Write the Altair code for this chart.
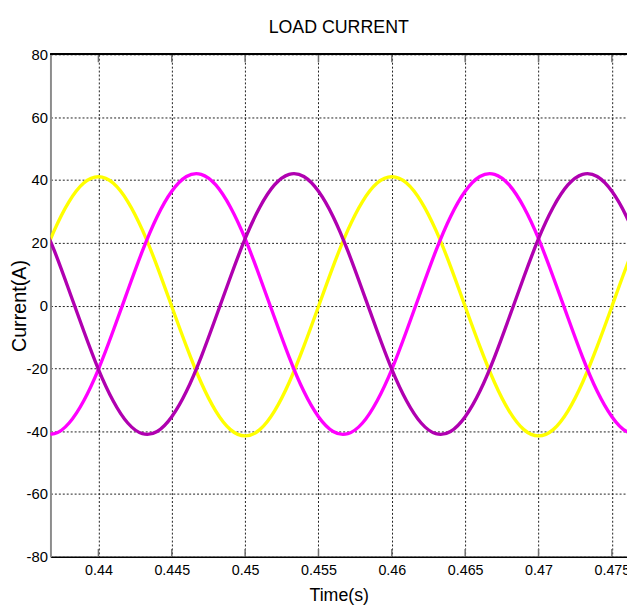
import altair as alt
import pandas as pd

# Sample times (s)
time_s = [0.436, 0.437, 0.438, 0.439, 0.440, 0.441, 0.442, 0.443, 0.444, 0.445,
          0.446, 0.447, 0.448, 0.449, 0.450, 0.451, 0.452, 0.453, 0.454, 0.455,
          0.456, 0.457, 0.458, 0.459, 0.460, 0.461, 0.462, 0.463, 0.464, 0.465,
          0.466, 0.467, 0.468, 0.469, 0.470, 0.471, 0.472, 0.473, 0.474, 0.475,
          0.476, 0.477]

# Phase currents (A)
yellow_a = [12.5, 24.0, 33.1, 39.0, 41.0, 39.0, 33.1, 24.0, 12.5, -0.3,
            -13.0, -24.5, -33.6, -39.5, -41.5, -39.5, -33.6, -24.5, -13.0, -0.3,
            12.5, 24.0, 33.1, 39.0, 41.0, 39.0, 33.1, 24.0, 12.5, -0.3,
            -13.0, -24.5, -33.6, -39.5, -41.5, -39.5, -33.6, -24.5, -13.0, -0.3,
            12.5, 24.0]
magenta_a = [-40.1, -40.8, -37.4, -30.3, -20.3, -8.1, 4.8, 17.4, 28.3, 36.4,
             41.1, 41.8, 38.4, 31.3, 21.3, 9.1, -3.8, -16.4, -27.3, -35.4,
             -40.1, -40.8, -37.4, -30.3, -20.3, -8.1, 4.8, 17.4, 28.3, 36.4,
             41.1, 41.8, 38.4, 31.3, 21.3, 9.1, -3.8, -16.4, -27.3, -35.4,
             -40.1, -40.8]
purple_a = [28.3, 17.4, 4.8, -8.1, -20.3, -30.3, -37.4, -40.8, -40.1, -35.4,
            -27.3, -16.4, -3.8, 9.1, 21.3, 31.3, 38.4, 41.8, 41.1, 36.4,
            28.3, 17.4, 4.8, -8.1, -20.3, -30.3, -37.4, -40.8, -40.1, -35.4,
            -27.3, -16.4, -3.8, 9.1, 21.3, 31.3, 38.4, 41.8, 41.1, 36.4,
            28.3, 17.4]

series_names = ["Phase A", "Phase B", "Phase C"]
series_colors = ["#ffff00", "#ff00ff", "#b000b0"]

x_ticks = [0.44, 0.445, 0.45, 0.455, 0.46, 0.465, 0.47, 0.475]
y_ticks = [-80, -60, -40, -20, 0, 20, 40, 60, 80]
x_domain = [0.43673, 0.47603]
y_domain = [-80, 80]

rows = []
for name, vals in zip(series_names, [yellow_a, magenta_a, purple_a]):
    for t, v in zip(time_s, vals):
        rows.append({"t": t, "i": v, "phase": name})
df = pd.DataFrame(rows)
ticks_df = pd.DataFrame({"t": x_ticks})

FONT = "Liberation Sans, Arial, Helvetica, sans-serif"
W, H = 584, 509

xscale = alt.Scale(domain=x_domain, nice=False, zero=False)
yscale = alt.Scale(domain=y_domain, nice=False, zero=False)

lines = alt.Chart(df).mark_line(interpolate="natural", strokeWidth=3.4, clip=True).encode(
    x=alt.X("t:Q", scale=xscale,
            axis=alt.Axis(values=x_ticks, format=".3~f", title="Time(s)",
                          grid=True, gridColor="#202020", gridDash=[2, 2], gridWidth=1, gridOpacity=1,
                          ticks=False, domainColor="#000000", domainWidth=1.5,
                          labelFont=FONT, labelFontSize=14.5, labelColor="#000", labelPadding=7,
                          titleFont=FONT, titleFontSize=18, titleFontWeight="normal", titleColor="#000",
                          titleBaseline="alphabetic", titleY=44)),
    y=alt.Y("i:Q", scale=yscale,
            axis=alt.Axis(values=y_ticks, title="Current(A)",
                          labelExpr="(datum.value < 0 ? '-' : '') + abs(datum.value)",
                          grid=True, gridColor="#202020", gridDash=[2, 2], gridWidth=1, gridOpacity=1,
                          ticks=False, domainColor="#8c8c8c", domainWidth=2,
                          labelFont=FONT, labelFontSize=15, labelColor="#000", labelPadding=3,
                          titleFont=FONT, titleFontSize=20,
                          titleFontWeight="normal", titleColor="#000",
                          titleAngle=-90, titleBaseline="middle", titleX=-31, titleY=H / 2)),
    color=alt.Color("phase:N", scale=alt.Scale(domain=series_names, range=series_colors), legend=None),
    detail="phase:N",
)

bottom_ticks = alt.Chart(ticks_df).mark_rule(color="#707070", strokeWidth=1.5, clip=True).encode(
    x=alt.X("t:Q", scale=xscale), y=alt.datum(-80), y2=alt.datum(-77.5)
)
top_ticks = alt.Chart(ticks_df).mark_rule(color="#707070", strokeWidth=1.5, clip=True).encode(
    x=alt.X("t:Q", scale=xscale), y=alt.datum(80), y2=alt.datum(77.5)
)
top_border = alt.Chart(ticks_df).mark_rule(color="#000000", strokeWidth=1.5).encode(
    y=alt.datum(80)
)

chart = alt.layer(lines, bottom_ticks, top_ticks, top_border).properties(
    width=W, height=H,
    title=alt.TitleParams("LOAD CURRENT", font=FONT, fontSize=18, fontWeight="normal",
                          color="#000", anchor="middle", frame="group", baseline="alphabetic",
                          offset=18, dy=21),
    padding={"left": 43, "top": 43, "right": 0, "bottom": 52},
    autosize=alt.AutoSizeParams(type="none"),
).configure_view(
    fill="#d4d0c8", stroke=None
).configure(background="#ffffff")

chart.save("out.html", embed_options={"renderer": "svg", "actions": False})
